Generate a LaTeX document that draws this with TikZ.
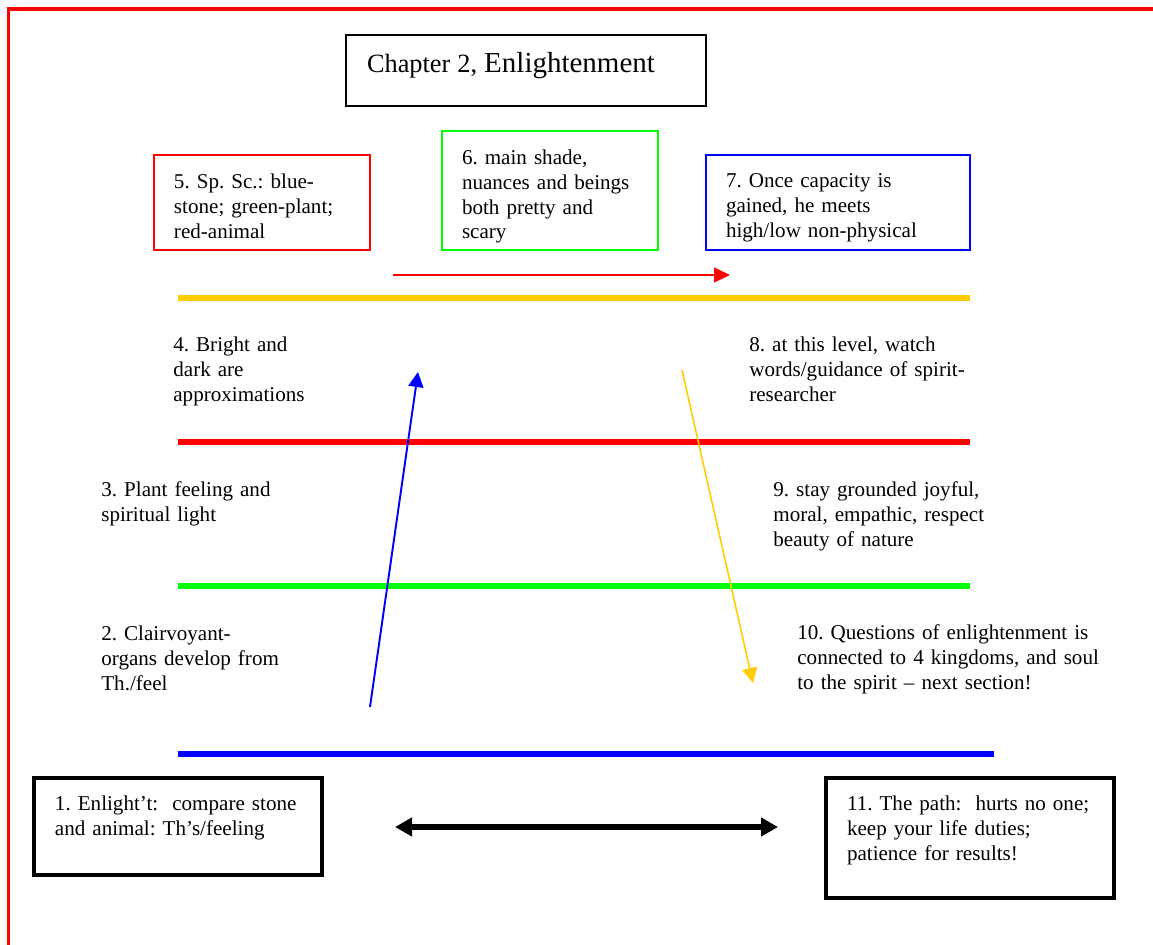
\documentclass[tikz,border=0pt]{standalone}
\usepackage{fontspec}
\setmainfont{Liberation Serif}
\usetikzlibrary{arrows.meta}
\definecolor{gold}{RGB}{255,204,0}
\definecolor{brightgreen}{RGB}{0,255,0}
\frenchspacing

\begin{document}
\begin{tikzpicture}[x=0.02cm,y=-0.02cm,
  every node/.style={font=\fontsize{12pt}{14pt}\selectfont},
  box/.style={draw, anchor=north west, align=left, outer sep=0pt, inner xsep=0.4cm, text height=0.3cm},
  note/.style={anchor=base west, align=left, inner sep=0pt, text width=7cm}]
\useasboundingbox (0,0) rectangle (1153,945);
\draw[red, line width=2pt] (8.5,945) |- (1153,9);

\node[box, line width=1.1pt, inner xsep=0.42cm, inner ysep=0.38cm, text width=6.36cm, text height=0.38cm, text depth=0.28cm] (title) at (346,35) {{\fontsize{15pt}{18pt}\selectfont Chapter 2, }{\fontsize{16.5pt}{18pt}\selectfont Enlightenment}};

\node[box, draw=red, line width=1.1pt, inner ysep=0.38cm, text width=3.52cm, text depth=0.84cm] (5) at (154,155) {5. Sp. Sc.: blue-\\stone; green-plant;\\red-animal};
\node[box, draw=brightgreen, line width=1.1pt, inner ysep=0.38cm, text width=3.52cm, text depth=1.32cm] (6) at (442,131) {6. main shade,\\nuances and beings\\both pretty and\\scary};
\node[box, draw=blue, line width=1.1pt, inner ysep=0.36cm, text width=4.48cm, text depth=0.88cm] (7) at (706,155) {7. Once capacity is\\gained, he meets\\high/low non-physical};

\node[note] (4) at (173,352) {4. Bright and\\dark are\\approximations};
\node[note] (8) at (749,352) {8. at this level, watch\\words/guidance of spirit-\\researcher};
\node[note] (3) at (101,497) {3. Plant feeling and\\spiritual light};
\node[note] (9) at (773,497) {9. stay grounded joyful,\\moral, empathic, respect\\beauty of nature};
\node[note] (2) at (101,641) {2. Clairvoyant-\\organs develop from\\Th./feel};
\node[note] (10) at (797,640) {10. Questions of enlightenment is\\connected to 4 kingdoms, and soul\\to the spirit -- next section!};

\node[box, line width=2.3pt, inner xsep=0.42cm, inner ysep=0.36cm, text width=4.92cm, text depth=0.92cm] (1) at (34,778) {1. Enlight't:\ \ compare stone\\and animal: Th's/feeling};
\node[box, line width=2.3pt, inner xsep=0.42cm, inner ysep=0.36cm, text width=4.92cm, text depth=1.38cm] (11) at (826,778) {11. The path:\ \ hurts no one;\\keep your life duties;\\patience for results!};

% levels
\foreach \y/\c/\e in {298/gold/970, 442/red/970, 586/brightgreen/970, 754/blue/994}
  \draw[\c, line width=3pt] (178,\y) -- (\e,\y);

% arrows
\coordinate (r0) at (393,275);
\coordinate (r1) at (730,275);
\coordinate (b0) at (370,707);
\coordinate (b1) at (418,372);
\coordinate (y0) at (682,370);
\coordinate (y1) at (753,683);
\coordinate (k0) at (395,827);
\coordinate (k1) at (778,827);
\path[draw=red, line width=0.7pt, -{Triangle[length=0.32cm,width=0.3cm]}] (r0) -- (r1);
\path[draw=blue, line width=1.1pt, -{Triangle[length=0.3cm,width=0.3cm]}] (b0) -- (b1);
\path[draw=gold, line width=0.9pt, -{Triangle[length=0.3cm,width=0.3cm]}] (y0) -- (y1);
\path[draw=black, line width=3pt, {Triangle[length=0.34cm,width=0.36cm]}-{Triangle[length=0.34cm,width=0.36cm]}] (k0) -- (k1);
\end{tikzpicture}
\end{document}
